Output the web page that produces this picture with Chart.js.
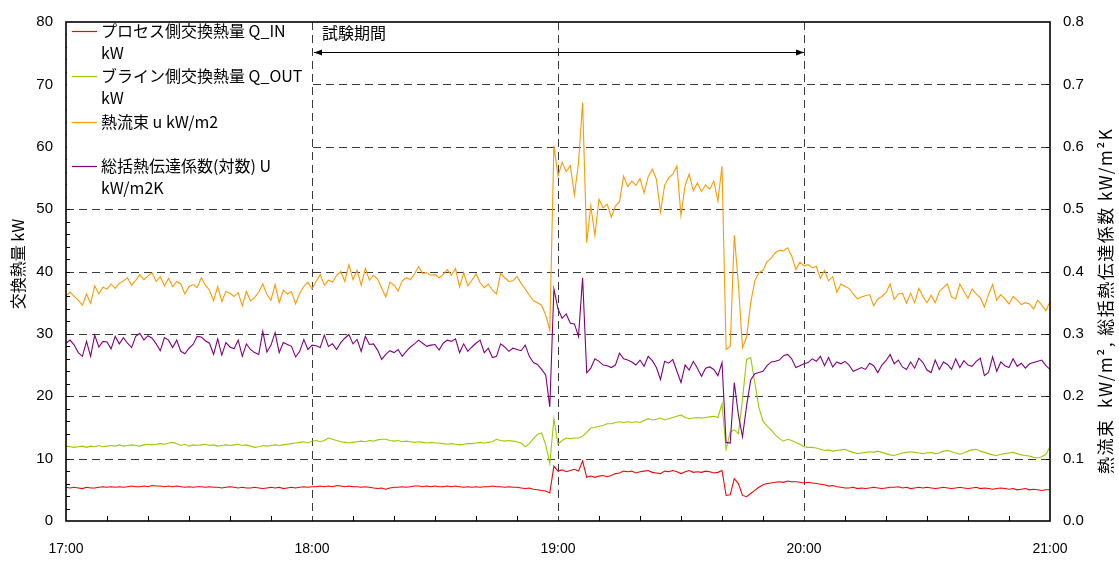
<!DOCTYPE html>
<html><head><meta charset="utf-8">
<script src="https://cdn.jsdelivr.net/npm/chart.js@4"></script>
<style>html,body{margin:0;padding:0;background:#fff}</style>
</head><body>
<canvas id="c" width="1119" height="561"></canvas>
<script>
// ---- data ----
const timeLabels = ['17:00','18:00','19:00','20:00','21:00'];
const minutes = Array.from({length:241},(_, i)=>i); // minutes after 17:00
const testPeriod = [60, 180];
const seriesNames = [
  ['プロセス側交換熱量 Q_IN','kW'],
  ['ブライン側交換熱量 Q_OUT','kW'],
  ['熱流束 u kW/m2'],
  ['総括熱伝達係数(対数) U','kW/m2K']
];
const qIn = [
5.4,5.3,5.4,5.3,5.2,5.4,5.3,5.3,5.4,5.5,
5.4,5.5,5.4,5.5,5.4,5.5,5.6,5.5,5.5,5.6,
5.5,5.7,5.6,5.6,5.5,5.6,5.5,5.6,5.5,5.4,
5.5,5.4,5.5,5.5,5.4,5.5,5.4,5.4,5.3,5.4,
5.5,5.4,5.3,5.4,5.3,5.3,5.4,5.3,5.2,5.3,
5.4,5.3,5.4,5.2,5.3,5.4,5.3,5.4,5.5,5.4,
5.5,5.5,5.6,5.5,5.6,5.5,5.7,5.6,5.5,5.6,
5.5,5.5,5.4,5.5,5.4,5.3,5.2,5.3,5.1,5.3,
5.4,5.4,5.5,5.4,5.5,5.6,5.6,5.5,5.6,5.5,
5.6,5.5,5.5,5.6,5.5,5.6,5.5,5.4,5.5,5.4,
5.5,5.4,5.5,5.5,5.6,5.5,5.5,5.4,5.5,5.4,
5.4,5.3,5.2,5.3,5.1,5.0,4.9,4.8,4.5,8.8,
8.0,8.2,7.9,8.1,8.3,8.0,9.6,7.0,7.2,7.0,
7.2,7.3,7.1,7.3,7.6,7.7,8.0,7.9,8.0,7.7,
7.9,8.0,8.1,7.8,7.7,7.6,8.0,7.9,8.1,7.9,
7.6,7.9,8.1,7.8,7.9,7.8,8.0,7.9,7.7,7.8,
8.1,4.1,4.2,6.8,6.0,4.1,3.9,4.4,4.9,5.4,
5.8,6.0,6.1,6.2,6.3,6.2,6.4,6.3,6.3,6.2,
6.1,6.2,6.1,6.0,5.9,5.8,5.6,5.7,5.5,5.4,
5.3,5.3,5.4,5.2,5.3,5.2,5.3,5.4,5.3,5.2,
5.3,5.4,5.4,5.5,5.3,5.4,5.2,5.3,5.4,5.3,
5.4,5.3,5.2,5.3,5.4,5.3,5.2,5.3,5.4,5.3,
5.2,5.3,5.4,5.2,5.3,5.2,5.1,5.2,5.3,5.2,
5.1,5.2,5.0,5.1,5.2,5.0,5.1,5.0,4.9,5.0,5.0];
const qOut = [
12.0,11.9,11.8,11.9,12.0,11.8,12.0,11.9,12.1,11.9,
12.0,12.1,12.0,12.2,12.0,12.1,12.2,12.1,12.0,12.2,
12.3,12.2,12.3,12.4,12.3,12.5,12.6,12.4,12.1,12.3,
12.0,12.2,12.1,12.2,12.3,12.1,12.2,12.0,12.1,12.2,
12.1,12.2,12.3,12.1,12.2,12.0,11.8,11.9,12.1,12.0,
12.1,12.2,12.1,12.2,12.3,12.4,12.5,12.6,12.7,12.5,
12.8,12.9,12.7,12.9,13.3,13.1,12.9,12.7,12.6,12.5,
12.6,12.7,12.8,12.7,12.9,12.8,13.0,13.1,13.1,12.9,
12.8,12.9,12.7,12.8,12.7,12.6,12.7,12.6,12.5,12.6,
12.5,12.5,12.4,12.3,12.4,12.3,12.2,12.3,12.4,12.4,
12.5,12.6,12.5,12.6,12.7,13.1,12.9,12.8,12.9,12.8,
12.7,12.5,11.9,12.4,13.2,13.9,14.1,12.2,9.2,16.4,
12.3,12.9,13.3,13.2,13.3,13.3,13.6,14.2,14.9,15.0,
15.2,15.3,15.6,15.6,15.8,15.9,15.8,15.9,15.8,15.9,
15.8,16.1,16.4,16.2,16.3,16.5,16.2,16.4,16.6,16.8,
17.0,16.6,16.4,16.5,16.6,16.5,16.6,16.7,16.8,16.6,
18.8,11.5,14.3,14.6,14.0,19.5,25.9,26.2,22.2,18.2,
16.0,15.2,14.6,13.8,13.2,12.8,13.1,12.9,12.6,12.3,
11.9,11.8,11.8,11.7,11.5,11.3,11.4,11.2,11.3,11.4,
11.5,11.2,11.0,10.8,10.9,11.0,11.1,11.0,11.2,11.0,
10.8,10.6,10.5,10.7,10.9,11.0,11.1,11.0,10.9,10.8,
10.9,11.0,10.8,10.9,11.2,11.3,11.1,10.9,10.7,10.9,
11.2,11.4,11.5,11.2,11.0,10.8,10.6,10.5,10.7,10.8,
10.9,11.0,10.8,10.6,10.5,10.4,10.2,10.1,10.3,10.7,11.9];
const heatFlux = [
0.361,0.367,0.360,0.354,0.346,0.364,0.349,0.377,0.364,0.375,
0.372,0.380,0.373,0.381,0.385,0.390,0.378,0.386,0.395,0.387,
0.393,0.398,0.384,0.392,0.377,0.389,0.376,0.384,0.380,0.364,
0.376,0.379,0.374,0.390,0.378,0.370,0.353,0.376,0.352,0.368,
0.365,0.360,0.366,0.345,0.368,0.353,0.358,0.367,0.380,0.363,
0.354,0.379,0.350,0.370,0.364,0.368,0.348,0.365,0.376,0.383,
0.372,0.384,0.395,0.378,0.386,0.383,0.394,0.400,0.384,0.411,
0.387,0.402,0.378,0.405,0.386,0.394,0.388,0.373,0.359,0.383,
0.378,0.369,0.385,0.390,0.387,0.396,0.408,0.397,0.398,0.394,
0.395,0.390,0.395,0.403,0.394,0.405,0.375,0.398,0.377,0.386,
0.396,0.382,0.374,0.380,0.370,0.364,0.397,0.390,0.384,0.385,
0.392,0.381,0.372,0.362,0.353,0.350,0.346,0.330,0.306,0.602,
0.553,0.575,0.560,0.570,0.523,0.574,0.671,0.446,0.505,0.458,
0.516,0.502,0.508,0.487,0.505,0.512,0.553,0.536,0.545,0.538,
0.549,0.526,0.552,0.564,0.548,0.495,0.538,0.550,0.556,0.569,
0.490,0.538,0.556,0.529,0.542,0.528,0.539,0.532,0.545,0.513,
0.569,0.275,0.280,0.458,0.380,0.278,0.295,0.350,0.385,0.398,
0.402,0.416,0.421,0.430,0.434,0.433,0.438,0.425,0.403,0.415,
0.409,0.411,0.406,0.408,0.389,0.402,0.385,0.392,0.367,0.380,
0.376,0.373,0.364,0.356,0.359,0.361,0.363,0.345,0.356,0.360,
0.366,0.380,0.355,0.364,0.365,0.349,0.365,0.350,0.373,0.360,
0.350,0.362,0.350,0.368,0.374,0.380,0.359,0.356,0.380,0.368,
0.357,0.372,0.364,0.358,0.343,0.363,0.379,0.354,0.363,0.356,
0.348,0.360,0.354,0.347,0.350,0.348,0.340,0.354,0.346,0.337,0.352];
const uCoef = [
0.285,0.290,0.282,0.270,0.264,0.288,0.264,0.298,0.279,0.288,
0.287,0.276,0.296,0.284,0.294,0.285,0.278,0.296,0.301,0.290,
0.297,0.293,0.284,0.273,0.294,0.290,0.278,0.290,0.272,0.268,
0.277,0.283,0.296,0.295,0.289,0.285,0.267,0.292,0.266,0.286,
0.279,0.276,0.290,0.264,0.284,0.275,0.270,0.267,0.304,0.271,
0.282,0.302,0.270,0.286,0.283,0.280,0.263,0.272,0.291,0.275,
0.282,0.281,0.278,0.298,0.280,0.284,0.275,0.286,0.293,0.299,
0.284,0.291,0.272,0.296,0.283,0.284,0.274,0.259,0.267,0.273,
0.270,0.275,0.264,0.272,0.279,0.284,0.290,0.285,0.280,0.282,
0.283,0.274,0.285,0.290,0.288,0.292,0.270,0.284,0.272,0.279,
0.285,0.290,0.270,0.277,0.262,0.264,0.284,0.279,0.272,0.277,
0.275,0.273,0.282,0.264,0.254,0.251,0.243,0.234,0.183,0.372,
0.340,0.325,0.332,0.317,0.316,0.296,0.390,0.238,0.245,0.260,
0.256,0.250,0.249,0.246,0.250,0.269,0.260,0.258,0.255,0.250,
0.258,0.248,0.264,0.257,0.246,0.227,0.256,0.253,0.259,0.240,
0.222,0.250,0.242,0.256,0.245,0.232,0.245,0.247,0.243,0.233,
0.254,0.126,0.125,0.222,0.170,0.135,0.185,0.226,0.236,0.238,
0.240,0.249,0.255,0.256,0.258,0.265,0.267,0.260,0.246,0.249,
0.252,0.254,0.260,0.256,0.264,0.249,0.262,0.247,0.255,0.252,
0.256,0.250,0.240,0.243,0.246,0.243,0.253,0.249,0.238,0.250,
0.257,0.267,0.252,0.258,0.247,0.243,0.255,0.245,0.261,0.254,
0.242,0.238,0.258,0.243,0.255,0.251,0.243,0.260,0.246,0.257,
0.250,0.248,0.256,0.261,0.233,0.238,0.263,0.240,0.255,0.249,
0.246,0.260,0.248,0.253,0.245,0.252,0.254,0.256,0.258,0.249,0.243];
const colors = ['#ff0000','#99cc00','#ff9900','#800080'];
const leftTitle = '交換熱量 kW';
const rightTitle = '熱流束  kW/m², 総括熱伝達係数 kW/m²K';
const annotationText = '試験期間';

const TF = "'Liberation Sans', Arial, sans-serif";
const JP = "'Noto Sans CJK JP', 'Noto Sans', sans-serif";

function pts(arr){ return minutes.map((t,i)=>({x:t,y:arr[i]})); }
const series = [qIn, qOut, heatFlux, uCoef];
const axisOf = ['y','y','y2','y2'];

const deco = {
  id:'deco',
  beforeDatasetsDraw(chart){
    const {ctx, chartArea:a, scales:{x,y}} = chart;
    ctx.save();
    // dashed grid
    ctx.strokeStyle='#3a3a3a'; ctx.lineWidth=1; ctx.setLineDash([8,5]);
    for (let v=10; v<80; v+=10){
      const py=Math.round(y.getPixelForValue(v))+0.5;
      ctx.beginPath(); ctx.moveTo(a.left,py); ctx.lineTo(a.right,py); ctx.stroke();
    }
    for (let t=60; t<240; t+=60){
      const px=Math.round(x.getPixelForValue(t))+0.5;
      ctx.beginPath(); ctx.moveTo(px,a.top); ctx.lineTo(px,a.bottom); ctx.stroke();
    }
    ctx.setLineDash([]);
    // minor ticks
    ctx.strokeStyle='#000';
    ctx.beginPath();
    for (let t=10; t<240; t+=10){
      if (t%60===0) continue;
      const px=Math.round(x.getPixelForValue(t))+0.5;
      ctx.moveTo(px,a.bottom); ctx.lineTo(px,a.bottom-5);
    }
    for (let v=2; v<80; v+=2){
      const py=Math.round(y.getPixelForValue(v))+0.5;
      ctx.moveTo(a.left,py); ctx.lineTo(a.left+4,py);
    }
    for (let v=10; v<80; v+=10){
      const py=Math.round(y.getPixelForValue(v))+0.5;
      ctx.moveTo(a.right,py); ctx.lineTo(a.right-4,py);
    }
    ctx.stroke();
    // legend box
    ctx.fillStyle='#fff';
    ctx.fillRect(a.left+1, a.top+1, 243, 184);
    const rowsY=[31,76,122,166];
    ctx.font='16px '+JP; ctx.textBaseline='middle'; ctx.textAlign='left';
    seriesNames.forEach((lines,i)=>{
      const yy=rowsY[i];
      ctx.strokeStyle=colors[i]; ctx.lineWidth=1.2;
      ctx.beginPath(); ctx.moveTo(72,yy+0.5); ctx.lineTo(97,yy+0.5); ctx.stroke();
      ctx.fillStyle='#000';
      lines.forEach((s,k)=>ctx.fillText(s,101,yy+k*22));
    });
    // annotation
    const x1=x.getPixelForValue(testPeriod[0])+2, x2=x.getPixelForValue(testPeriod[1]);
    const ay=52.5;
    ctx.fillStyle='#000'; ctx.font='16px '+JP;
    ctx.fillText(annotationText, x1+8, 33);
    ctx.strokeStyle='#000'; ctx.lineWidth=1;
    ctx.beginPath(); ctx.moveTo(x1,ay); ctx.lineTo(x2,ay); ctx.stroke();
    ctx.beginPath(); ctx.moveTo(x1,ay); ctx.lineTo(x1+8,ay-3); ctx.lineTo(x1+8,ay+3); ctx.closePath(); ctx.fill();
    ctx.beginPath(); ctx.moveTo(x2,ay); ctx.lineTo(x2-8,ay-3); ctx.lineTo(x2-8,ay+3); ctx.closePath(); ctx.fill();
    ctx.restore();
  },
  afterDatasetsDraw(chart){
    const {ctx, chartArea:a} = chart;
    ctx.save();
    ctx.strokeStyle='#000'; ctx.lineWidth=1.6;
    ctx.strokeRect(a.left, a.top, a.right-a.left, a.bottom-a.top);
    ctx.fillStyle='#000'; ctx.font='16px '+JP; ctx.textAlign='center'; ctx.textBaseline='middle';
    ctx.translate(18, 264); ctx.rotate(-Math.PI/2);
    ctx.fillText(leftTitle,0,0);
    ctx.restore();
    ctx.save();
    ctx.fillStyle='#000'; ctx.font='17px '+JP; ctx.textAlign='center'; ctx.textBaseline='middle';
    if ('letterSpacing' in ctx) ctx.letterSpacing='1.5px';
    ctx.translate(1106, 301); ctx.rotate(-Math.PI/2);
    ctx.fillText(rightTitle,0,0);
    ctx.restore();
  }
};

new Chart(document.getElementById('c'), {
  type:'line',
  data:{ datasets: series.map((arr,i)=>({
    label: seriesNames[i].join(' '),
    data: pts(arr), yAxisID: axisOf[i],
    borderColor: colors[i], borderWidth: 1.1, pointRadius: 0, tension: 0, fill:false
  })).reverse() },
  options:{
    responsive:false, animation:false, devicePixelRatio:1,
    layout:{padding:{top:13,left:0,right:0,bottom:0}},
    plugins:{legend:{display:false}, tooltip:{enabled:false}},
    scales:{
      x:{type:'linear', min:0, max:240,
        ticks:{stepSize:60, autoSkip:false, maxRotation:0, padding:20, color:'#000',
               font:{family:TF,size:14}, callback:v=>timeLabels[v/60]},
        grid:{display:false, drawTicks:false}, border:{display:false},
        afterFit:s=>{s.height=40;}},
      y:{position:'left', min:0, max:80,
        ticks:{stepSize:10, padding:13, color:'#000', font:{family:TF,size:15}},
        grid:{display:false, drawTicks:false}, border:{display:false},
        afterFit:s=>{s.width=66;}},
      y2:{position:'right', min:0, max:0.8,
        ticks:{stepSize:0.1, padding:13, color:'#000', font:{family:TF,size:15},
               callback:v=>v.toFixed(1)},
        grid:{display:false, drawTicks:false}, border:{display:false},
        afterFit:s=>{s.width=69;}}
    }
  },
  plugins:[deco]
});
</script>
</body></html>
